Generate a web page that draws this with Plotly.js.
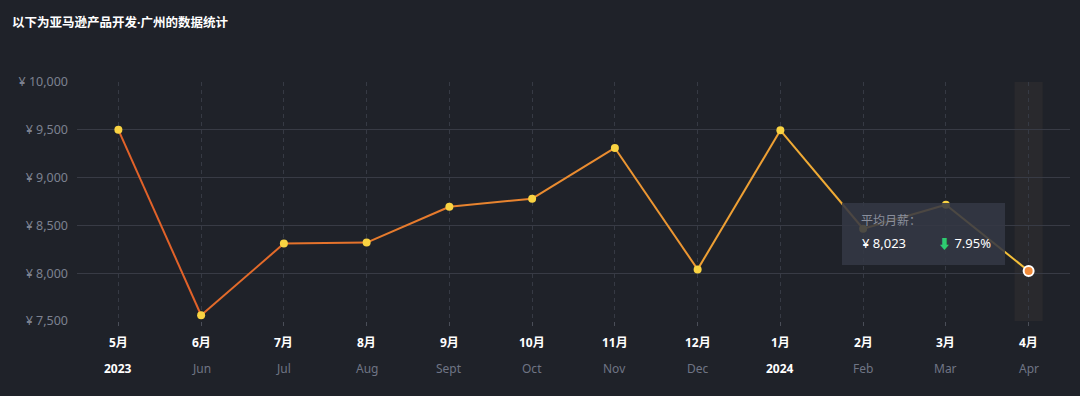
<!DOCTYPE html>
<html>
<head>
<meta charset="utf-8">
<script src="https://cdn.plot.ly/plotly-3.0.1.min.js"></script>
<style>
html,body{margin:0;padding:0;background:#1f2229;}
#chart{width:1080px;height:396px;}
</style>
</head>
<body>
<div id="chart"></div>
<script>
// ---- data ----
const months = ["5月","6月","7月","8月","9月","10月","11月","12月","1月","2月","3月","4月"];
const subLabels = ["2023","Jun","Jul","Aug","Sept","Oct","Nov","Dec","2024","Feb","Mar","Apr"];
const salary = [9500, 7560, 8310, 8320, 8695, 8780, 9310, 8040, 9495, 8465, 8716, 8023];
const tooltipTitle = "平均月薪：";
const tooltipValue = "¥ 8,023";
const tooltipChange = "7.95%";
const yTicks = [7500, 8000, 8500, 9000, 9500, 10000];
const yTickText = ["¥ 7,500","¥ 8,000","¥ 8,500","¥ 9,000","¥ 9,500","¥ 10,000"];
const chartTitle = "以下为亚马逊产品开发·广州的数据统计";

// ---- styling helpers ----
const FONT = "Noto Sans, Noto Sans CJK SC, sans-serif";
function lerp(a,b,t){return Math.round(a+(b-a)*t);}
function grad(t){
  const c0=[224,94,40], c1=[234,140,48], c2=[245,196,58];
  let a,b,u;
  if(t<0.5){a=c0;b=c1;u=t/0.5;}else{a=c1;b=c2;u=(t-0.5)/0.5;}
  return `rgb(${lerp(a[0],b[0],u)},${lerp(a[1],b[1],u)},${lerp(a[2],b[2],u)})`;
}

const traces = [];
const n = months.length;
for(let i=0;i<n-1;i++){
  traces.push({
    x:[months[i],months[i+1]], y:[salary[i],salary[i+1]],
    type:'scatter', mode:'lines',
    line:{color:grad((i+0.5)/(n-1)), width:2},
    hoverinfo:'skip', showlegend:false
  });
}
traces.push({
  x:months.slice(0,n-1), y:salary.slice(0,n-1), type:'scatter', mode:'markers',
  marker:{color:'#f9d342', size:8}, hoverinfo:'skip', showlegend:false
});
traces.push({
  x:[months[n-1]], y:[salary[n-1]], type:'scatter', mode:'markers',
  marker:{color:'#f08a3a', size:10, line:{color:'#ffffff', width:2}}, hoverinfo:'skip', showlegend:false
});

const annotations = [];
months.forEach((m,i)=>{
  annotations.push({x:m, y:0, xref:'x', yref:'paper', yanchor:'top', yshift:-11,
    text:'<b>'+m+'</b>', showarrow:false, font:{family:FONT, size:12, color:'#ffffff'}});
  const isYear = /^\d{4}$/.test(subLabels[i]);
  annotations.push({x:m, y:0, xref:'x', yref:'paper', yanchor:'top', yshift:-37,
    text: isYear ? '<b>'+subLabels[i]+'</b>' : subLabels[i], showarrow:false,
    font:{family:FONT, size:12, color: isYear ? '#ffffff' : '#6f7585'}});
});
// tooltip texts
annotations.push({xref:'paper', yref:'paper', x:(859-77)/993, y:(321-220)/239, xanchor:'left', yanchor:'middle',
  text:tooltipTitle, showarrow:false, font:{family:FONT,size:12,color:'#8a8f9c'}});
annotations.push({xref:'paper', yref:'paper', x:(860-77)/993, y:(321-243)/239, xanchor:'left', yanchor:'middle',
  text:tooltipValue, showarrow:false, font:{family:FONT,size:13,color:'#ffffff'}});
annotations.push({xref:'paper', yref:'paper', x:(936-77)/993, y:(321-243)/239, xanchor:'left', yanchor:'middle',
  text:'<span style="color:#2ecc71">⬇</span> '+tooltipChange, showarrow:false, font:{family:FONT,size:13,color:'#ffffff'}});
annotations.push({xref:'paper', yref:'paper', x:0, y:1, xanchor:'left', yanchor:'middle', xshift:-67, yshift:82-22,
  text:'<b>'+chartTitle+'</b>', showarrow:false, font:{family:FONT,size:12.5,color:'#ffffff'}});

const shapes = [
  {type:'rect', xref:'x', yref:'paper', x0:n-1-0.17, x1:n-1+0.17, y0:0, y1:1,
   fillcolor:'#29292d', line:{width:0}, layer:'below'},
  {type:'rect', xref:'paper', yref:'paper', x0:(842-77)/993, x1:(1005-77)/993,
   y0:(321-265)/239, y1:(321-203)/239, fillcolor:'rgba(52,56,68,0.88)', line:{width:0}, layer:'above'}
];

const layout = {
  width:1080, height:396,
  paper_bgcolor:'#1f2229', plot_bgcolor:'#1f2229',
  margin:{l:77, r:10, t:82, b:75},
  showlegend:false,
  xaxis:{type:'category', range:[-0.5, n-0.5], showgrid:true, gridcolor:'#363a44', griddash:'4px,4px', gridwidth:1,
    showline:false, zeroline:false, ticks:'outside', ticklen:4, tickcolor:'#4a4e58', showticklabels:false, fixedrange:true},
  yaxis:{range:[7500,10000], tickvals:yTicks, ticktext:yTickText, showgrid:true, gridcolor:'#383b45', gridwidth:1,
    zeroline:false, showline:false, ticks:'', ticklabelstandoff:8,
    tickfont:{family:FONT,size:12.5,color:'#7c8190'}, fixedrange:true},
  annotations:annotations, shapes:shapes,
  font:{family:FONT, color:'#ffffff'}
};

Plotly.newPlot('chart', traces, layout, {displayModeBar:false, staticPlot:true});
</script>
</body>
</html>
